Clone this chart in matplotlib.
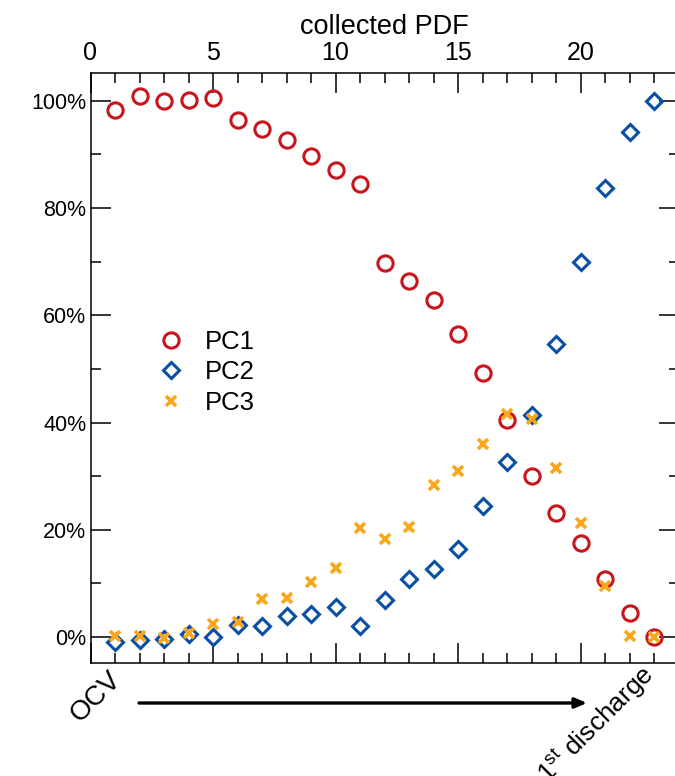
import matplotlib
matplotlib.use("Agg")
import matplotlib.pyplot as plt
from matplotlib.ticker import MultipleLocator, FuncFormatter

plt.rcParams['font.family'] = ['Liberation Sans', 'DejaVu Sans']
plt.rcParams['mathtext.fontset'] = 'custom'
plt.rcParams['mathtext.rm'] = 'Liberation Sans'
plt.rcParams['mathtext.it'] = 'Liberation Sans'

# PDF index along the first discharge
pdf_index = list(range(1, 24))

# Principal component weights (%)
pc1 = [98.3, 101.0, 100.0, 100.1, 100.6, 96.5, 94.8, 92.7, 89.7, 87.1, 84.5,
       69.8, 66.4, 62.9, 56.5, 49.3, 40.5, 30.0, 23.1, 17.5, 10.8, 4.5, 0.0]
pc2 = [-1.0, -0.6, -0.4, 0.6, 0.0, 2.2, 2.1, 3.9, 4.3, 5.6, 2.1,
       6.9, 10.9, 12.6, 16.4, 24.4, 32.6, 41.4, 54.7, 70.0, 83.8, 94.2, 100.0]
pc3 = [0.2, 0.2, -0.2, 0.7, 2.4, 2.8, 7.1, 7.3, 10.3, 12.9, 20.3,
       18.2, 20.6, 28.4, 31.0, 36.0, 41.6, 40.7, 31.5, 21.3, 9.5, 0.2, 0.0]

series_names = ["PC1", "PC2", "PC3"]
x_ticks = [0, 5, 10, 15, 20]
y_ticks = [0, 20, 40, 60, 80, 100]

red = "#c8161d"
blue = "#0a4fa3"
orange = "#fba71b"

fig = plt.figure(figsize=(6.75, 7.76), dpi=100)
ax = fig.add_axes([90.5 / 675, 1 - 663 / 776, 588 / 675, (663 - 73) / 776])

ax.plot(pdf_index, pc1, linestyle="none", marker="o", ms=11.0, mfc="none",
        mec=red, mew=2.2, label=series_names[0], clip_on=False, zorder=3)
ax.plot(pdf_index, pc2, linestyle="none", marker="D", ms=8.2, mfc="none",
        mec=blue, mew=2.2, label=series_names[1], clip_on=False, zorder=3)
ax.plot(pdf_index, pc3, linestyle="none", marker="x", ms=7.0,
        mec=orange, mew=2.6, label=series_names[2], clip_on=False, zorder=4)

ax.set_xlim(0, 24)
ax.set_ylim(-4.85, 105.2)

ax.set_xticks(x_ticks)
ax.xaxis.set_minor_locator(MultipleLocator(1))
ax.set_yticks(y_ticks)
ax.yaxis.set_minor_locator(MultipleLocator(10))
ax.yaxis.set_major_formatter(FuncFormatter(lambda v, p: f"{v:.0f}%"))

ax.tick_params(which="both", direction="in", top=True, bottom=True,
               left=True, right=True, labeltop=True, labelbottom=False,
               labelleft=True, labelright=False, width=1.1, color="black")
ax.tick_params(which="major", length=14.4)
ax.tick_params(which="minor", length=7.2)
ax.tick_params(axis="y", which="major", pad=3, labelsize=15.5)
ax.tick_params(axis="x", which="major", pad=6, labelsize=18)

ax.xaxis.set_label_position("top")
ax.set_xlabel("collected PDF", fontsize=19.5, labelpad=5)

for s in ax.spines.values():
    s.set_linewidth(1.1)

ax.legend(loc="upper left", bbox_to_anchor=(0.11, 0.565), frameon=False,
          fontsize=18.5, handletextpad=0.74, labelspacing=0.26, handlelength=1.2,
          borderaxespad=0, borderpad=0)

# Direction of the discharge sequence below the axis
fig.text(96 / 675, 1 - 697 / 776, "OCV", rotation=45, fontsize=20,
         ha="center", va="center")
fig.text(596 / 675, 1 - 724 / 776, r"1$^{\mathrm{st}}$ discharge", rotation=45,
         fontsize=19, ha="center", va="center")
ax.annotate("", xy=(587 / 675, 1 - 703 / 776), xytext=(139 / 675, 1 - 703 / 776),
            xycoords="figure fraction", textcoords="figure fraction",
            arrowprops=dict(arrowstyle="-|>,head_length=0.7,head_width=0.3",
                            lw=2.4, color="black", shrinkA=0, shrinkB=0))

fig.savefig("out.png", dpi=100)
